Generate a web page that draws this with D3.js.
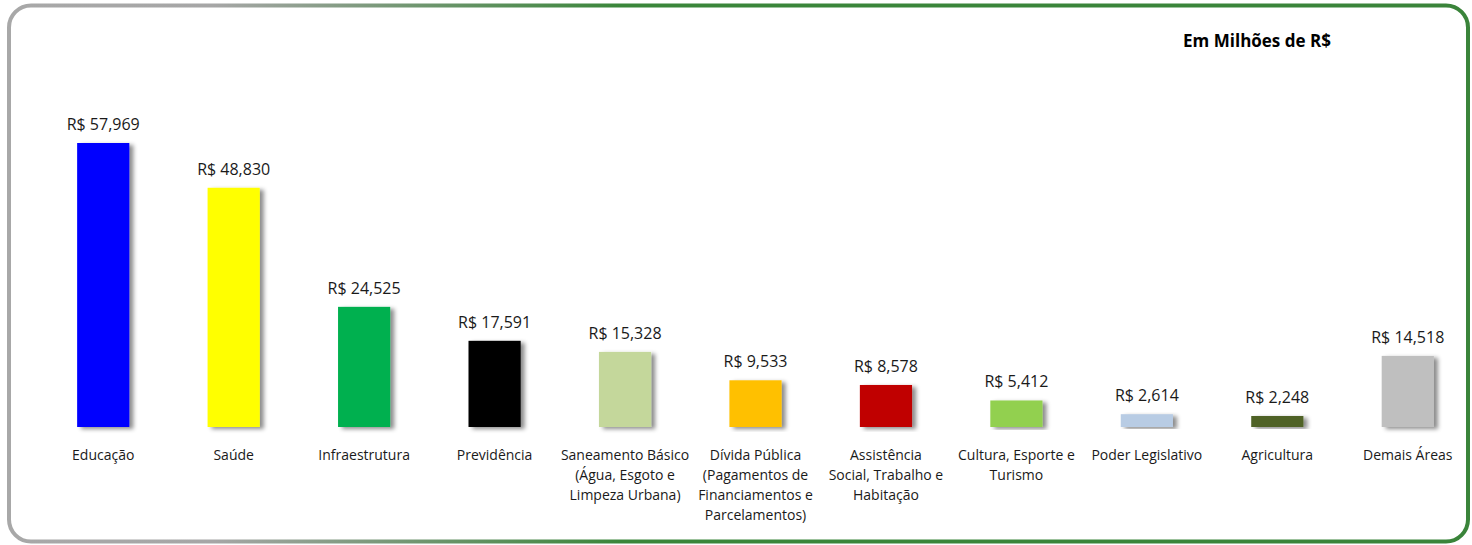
<!DOCTYPE html>
<html>
<head>
<meta charset="utf-8">
<script src="https://cdn.jsdelivr.net/npm/d3@7"></script>
<style>
  body { margin: 0; background: #fff; }
  svg { display: block; font-family: "Open Sans", "Noto Sans", sans-serif; }
</style>
</head>
<body>
<div id="chart"></div>
<script>
// data
const categories = ["Educação", "Saúde", "Infraestrutura", "Previdência", "Saneamento Básico", "Dívida Pública",
  "Assistência", "Cultura", "Poder Legislativo", "Agricultura", "Demais Áreas"];
const labelLines = [
  ["Educação"],
  ["Saúde"],
  ["Infraestrutura"],
  ["Previdência"],
  ["Saneamento Básico", "(Água, Esgoto e", "Limpeza Urbana)"],
  ["Dívida Pública", "(Pagamentos de", "Financiamentos e", "Parcelamentos)"],
  ["Assistência", "Social, Trabalho e", "Habitação"],
  ["Cultura, Esporte e", "Turismo"],
  ["Poder Legislativo"],
  ["Agricultura"],
  ["Demais Áreas"]
];
const values = [57969, 48830, 24525, 17591, 15328, 9533, 8578, 5412, 2614, 2248, 14518];
const barColors = ["#0000FF", "#FFFF00", "#00B050", "#000000", "#C4D79B", "#FFC000",
  "#C00000", "#92D050", "#B8CCE4", "#4F6228", "#BFBFBF"];
const unitTitle = "Em Milhões de R$";

const width = 1472, height = 545;
const baseY = 427;

const svg = d3.select("#chart").append("svg")
    .attr("width", width)
    .attr("height", height);

const defs = svg.append("defs");

// border gradient gray -> green
const grad = defs.append("linearGradient")
    .attr("id", "borderGrad")
    .attr("x1", "0%").attr("x2", "100%")
    .attr("y1", "0%").attr("y2", "0%");
grad.append("stop").attr("offset", "0%").attr("stop-color", "#a8a8a8");
grad.append("stop").attr("offset", "14%").attr("stop-color", "#a6a6a6");
grad.append("stop").attr("offset", "42%").attr("stop-color", "#3a863a");
grad.append("stop").attr("offset", "100%").attr("stop-color", "#3a843a");

// bar shadow
const shadow = defs.append("filter")
    .attr("id", "barShadow")
    .attr("x", "-20%").attr("y", "-10%")
    .attr("width", "150%").attr("height", "120%");
shadow.append("feDropShadow")
    .attr("dx", 4).attr("dy", 2)
    .attr("stdDeviation", 2)
    .attr("flood-color", "#000")
    .attr("flood-opacity", 0.45);

svg.append("rect")
    .attr("x", 9).attr("y", 5.5)
    .attr("width", 1459).attr("height", 536)
    .attr("rx", 22).attr("ry", 22)
    .attr("fill", "#fff")
    .attr("stroke", "url(#borderGrad)")
    .attr("stroke-width", 4);

const x = d3.scaleBand()
    .domain(categories)
    .range([38, 1473])
    .paddingInner(0.6)
    .paddingOuter(0.3);

const y = d3.scaleLinear()
    .domain([0, 57969])
    .range([baseY, 143]);

const bars = svg.append("g");

bars.selectAll("rect")
  .data(values)
  .enter().append("rect")
    .attr("x", (d, i) => x(categories[i]))
    .attr("y", d => y(d))
    .attr("width", x.bandwidth())
    .attr("height", d => baseY - y(d))
    .attr("fill", (d, i) => barColors[i])
    .attr("filter", "url(#barShadow)");

// value labels
bars.selectAll(".val")
  .data(values)
  .enter().append("text")
    .attr("class", "val")
    .attr("x", (d, i) => x(categories[i]) + x.bandwidth() / 2)
    .attr("y", d => y(d) - 13)
    .attr("text-anchor", "middle")
    .attr("fill", "#1a1a1a")
    .style("font-size", "16px")
    .text(d => "R$ " + d3.format(",")(d));

// category labels
const cat = svg.append("g");
labelLines.forEach((lines, i) => {
  const t = cat.append("text")
      .attr("x", x(categories[i]) + x.bandwidth() / 2)
      .attr("y", 460)
      .attr("text-anchor", "middle")
      .attr("fill", "#1a1a1a")
      .style("font-size", "14px");
  lines.forEach((l, j) => {
    t.append("tspan")
      .attr("x", x(categories[i]) + x.bandwidth() / 2)
      .attr("y", 460 + j * 20)
      .text(l);
  });
});

// unit title
svg.append("text")
    .attr("x", 1257)
    .attr("y", 47)
    .attr("text-anchor", "middle")
    .attr("fill", "#000")
    .style("font-size", "17px")
    .style("font-weight", "bold")
    .text(unitTitle);
</script>
</body>
</html>
